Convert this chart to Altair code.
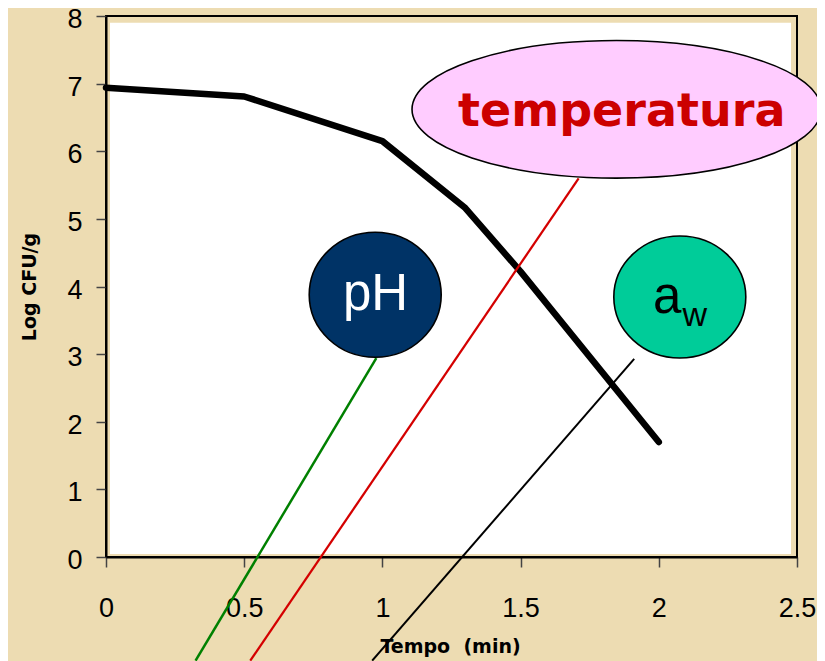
import altair as alt
import pandas as pd

# ---- data ----
time_min = [0.0, 0.5, 1.0, 1.3, 1.5, 2.0]
log_cfu = [6.94, 6.81, 6.15, 5.16, 4.22, 1.70]

x_ticks = [0, 0.5, 1, 1.5, 2, 2.5]
y_ticks = [0, 1, 2, 3, 4, 5, 6, 7, 8]

# connector lines (start below the axis, end at the bubbles), in data units
conn_names = ["pH", "pH", "temperatura", "temperatura", "aw", "aw"]
conn_x = [0.324, 0.978, 0.522, 1.710, 0.963, 1.911]
conn_y = [-1.533, 2.94, -1.533, 5.60, -1.533, 2.93]

# bubble centres (data units)
ph_center = [0.974, 3.877]
temp_center = [1.847, 6.62]
aw_center = [2.076, 3.844]

# label anchors (data units)
ph_label = [0.975, 3.655]
temp_label = [1.866, 6.379]
a_label = [2.082, 3.611]
w_label = [2.086, 3.409]

W, H = 691, 541
BG = "#EDDCB2"
SANS = "Liberation Sans"

xs = alt.Scale(domain=[0, 2.5], nice=False, zero=False)
ys = alt.Scale(domain=[0, 8], nice=False, zero=False)

x_axis = alt.Axis(
    values=x_ticks, format="~g", grid=False,
    labelFont=SANS, labelFontSize=27, labelColor="black", labelPadding=28,
    labelFlush=False, labelOverlap=False, labelBound=False,
    tickSize=10, tickColor="#444", tickWidth=1.5,
    domainColor="black", domainWidth=2,
    title="Tempo\u00a0 (min)", titleFont="DejaVu Sans", titleFontSize=19,
    titleFontWeight="bold", titleColor="black",
    titleX=344, titleY=95, titleBaseline="alphabetic", titleAlign="center",
)
y_axis = alt.Axis(
    values=y_ticks, format="d", grid=False,
    labelFont=SANS, labelFontSize=27, labelColor="black", labelPadding=14,
    labelBaseline="middle", labelOffset=3.5,
    labelOverlap=False, labelBound=False, labelFlush=False,
    tickSize=10, tickColor="#444", tickWidth=1.5,
    domainColor="black", domainWidth=2,
    title="Log CFU/g", titleFont="DejaVu Sans", titleFontSize=19,
    titleFontWeight="bold", titleColor="black",
    titleX=-71, titleY=270.5, titleBaseline="alphabetic", titleAlign="center",
    titleAngle=270,
)


def X(field):
    return alt.X(field, type="quantitative", scale=xs, axis=x_axis)


def Y(field):
    return alt.Y(field, type="quantitative", scale=ys, axis=y_axis)


one = pd.DataFrame({"k": [0]})

panel = alt.Chart(one).mark_rect(color="white").encode(
    x=alt.value(4), x2=alt.value(W - 6), y=alt.value(6.7), y2=alt.value(H - 3)
)

curve = alt.Chart(pd.DataFrame({"t": time_min, "v": log_cfu})).mark_line(
    color="black", strokeWidth=6.5, strokeCap="round", strokeJoin="round"
).encode(x=X("t"), y=Y("v"))

conn = alt.Chart(pd.DataFrame({"name": conn_names, "t": conn_x, "v": conn_y})).mark_line(
    strokeCap="butt"
).encode(
    x=X("t"), y=Y("v"),
    detail="name:N",
    color=alt.Color("name:N", scale=alt.Scale(domain=["pH", "temperatura", "aw"],
                                              range=["#008000", "#D40000", "#000000"]), legend=None),
    strokeWidth=alt.StrokeWidth("name:N", scale=alt.Scale(domain=["pH", "temperatura", "aw"],
                                                          range=[2.5, 2, 1.6]), legend=None),
)


def ellipse_path(r):
    return f"M-1,0 A1,{r} 0 1,1 1,0 A1,{r} 0 1,1 -1,0 Z"


def bubble(center, width, height, fill):
    return alt.Chart(pd.DataFrame({"t": [center[0]], "v": [center[1]]})).mark_point(
        shape=ellipse_path(round(height / width, 4)), size=width * width,
        filled=True, fill=fill, stroke="black", strokeWidth=1.6, opacity=1,
    ).encode(x=X("t"), y=Y("v"))


def label(pos, text, **kw):
    return alt.Chart(pd.DataFrame({"t": [pos[0]], "v": [pos[1]]})).mark_text(
        text=text, baseline="alphabetic", **kw
    ).encode(x=X("t"), y=Y("v"))


ph_b = bubble(ph_center, 132, 125, "#003366")
aw_b = bubble(aw_center, 132, 122, "#00CC99")
temp_b = bubble(temp_center, 409, 137.5, "#FFCCFF")

ph_t = label(ph_label, "pH", font=SANS, fontSize=51, color="white", align="center")
a_t = label(a_label, "a", font=SANS, fontSize=51, color="black", align="right")
w_t = label(w_label, "w", font=SANS, fontSize=34, color="black", align="left")
temp_t = label(temp_label, "temperatura", font="DejaVu Sans", fontSize=46,
               fontWeight="bold", color="#CC0000", align="center")

chart = alt.layer(
    panel, curve, conn, ph_b, aw_b, temp_b, ph_t, a_t, w_t, temp_t
).properties(
    width=W, height=H,
    padding={"left": 98, "top": 8, "right": 20, "bottom": 104},
    autosize=alt.AutoSizeParams(type="none"),
    background=BG,
).configure_view(
    stroke="black", strokeWidth=2, fill=BG
)

chart.save("out.html", embed_options={"renderer": "svg", "actions": False})
